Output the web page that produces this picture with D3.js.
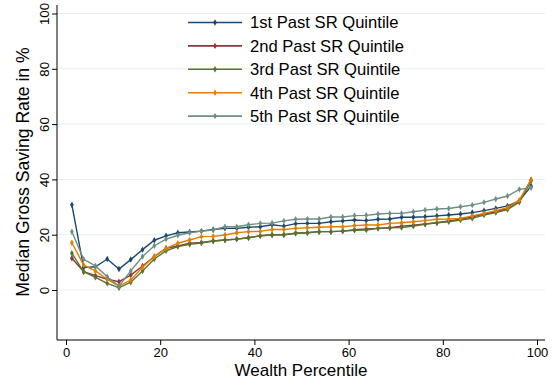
<!DOCTYPE html>
<html><head><meta charset="utf-8">
<script src="https://cdn.jsdelivr.net/npm/d3@7"></script>
<style>body{margin:0;background:#fff}svg{display:block}text{font-family:"Liberation Sans",Arial,Helvetica,sans-serif;fill:#000}</style>
</head><body><svg id="c" width="556" height="385"></svg>
<script>
const percentiles = d3.range(40).map(k => 1.25 + 2.5 * k);
const seriesNames = ["1st Past SR Quintile","2nd Past SR Quintile","3rd Past SR Quintile","4th Past SR Quintile","5th Past SR Quintile"];
const q1 = [30.8,8.1,8.4,11.2,7.6,11.0,14.6,18.0,19.6,20.7,21.0,21.3,21.9,22.3,22.3,22.7,22.9,23.6,23.1,24.0,24.1,24.1,24.7,25.0,25.3,25.1,25.6,25.7,26.3,26.3,26.5,26.8,27.1,27.5,28.0,28.7,29.5,30.4,32.2,37.6];
const q2 = [11.5,6.6,5.2,3.9,3.0,5.4,8.7,12.1,15.1,15.9,16.9,17.2,17.7,18.1,18.4,18.9,19.6,19.9,20.0,20.5,20.7,21.1,21.1,21.3,21.8,22.1,22.3,22.5,23.1,23.4,23.9,24.3,25.0,25.6,26.5,27.5,28.3,29.5,32.2,39.8];
const q3 = [13.3,6.6,4.6,2.4,0.8,2.8,6.9,11.2,14.2,15.7,16.5,17.0,17.7,18.1,18.4,18.9,19.6,20.0,20.0,20.5,20.7,21.1,21.1,21.3,21.6,21.7,22.3,22.5,22.6,23.1,23.8,24.3,24.7,25.3,25.9,27.1,28.0,29.1,31.7,39.5];
const q4 = [17.1,9.0,6.9,3.9,1.4,3.6,8.2,12.1,15.1,16.9,18.1,19.3,19.4,19.9,20.7,21.1,21.2,21.9,21.9,22.3,22.5,22.7,22.9,22.9,23.3,23.5,23.5,24.1,24.3,24.7,25.1,25.6,25.7,25.9,26.8,27.7,28.7,29.8,32.5,40.0];
const q5 = [21.1,11.1,8.7,4.8,1.4,6.9,12.1,16.0,18.4,19.8,20.7,21.3,21.7,22.9,22.9,23.6,24.1,24.2,25.0,25.6,25.7,25.7,26.4,26.4,26.9,27.0,27.5,27.7,27.7,28.3,28.9,29.3,29.5,30.1,30.7,31.7,32.9,34.0,36.4,37.0];
const seriesValues = [q1,q2,q3,q4,q5];
const colors = ["#1a476f","#90353b","#55752f","#e37e00","#6e8e84"];
const xTicks = [0,20,40,60,80,100];
const yTicks = [0,20,40,60,80,100];

const svg = d3.select("#c");
const plot = {left:57, right:545, top:5, bottom:340};
const x = d3.scaleLinear().domain([0,100]).range([66,537]);
const y = d3.scaleLinear().domain([0,100]).range([290,13.5]);

// gridlines
svg.append("g").selectAll("line").data(yTicks).join("line")
  .attr("x1",plot.left).attr("x2",plot.right)
  .attr("y1",d=>y(d)).attr("y2",d=>y(d))
  .attr("stroke","#e6eef0").attr("stroke-width",1);

// axes
const ya = svg.append("g").attr("transform",`translate(${plot.left},0)`)
  .call(d3.axisLeft(y).tickValues(yTicks).tickSize(5).tickPadding(0).tickFormat(d3.format("d")));
ya.select(".domain").attr("d",`M0,${plot.top}V${plot.bottom}`).attr("stroke","#000");
ya.selectAll(".tick line").attr("stroke","#000");
ya.selectAll(".tick text").attr("font-size",13.2).attr("text-anchor","middle")
  .attr("transform","translate(-13,0) rotate(-90)").attr("x",0).attr("dy","0.35em").style("font-family","Liberation Sans, Arial, sans-serif").attr("fill","#000");

const xa = svg.append("g").attr("transform",`translate(0,${plot.bottom})`)
  .call(d3.axisBottom(x).tickValues(xTicks).tickSize(5).tickPadding(3).tickFormat(d3.format("d")));
xa.select(".domain").attr("d",`M${plot.left},0H${plot.right}`).attr("stroke","#000");
xa.selectAll(".tick line").attr("stroke","#000");
xa.selectAll(".tick text").attr("font-size",13).style("font-family","Liberation Sans, Arial, sans-serif").attr("fill","#000");

// titles
svg.append("text").attr("x",301).attr("y",376).attr("text-anchor","middle").attr("font-size",17).text("Wealth Percentile");
svg.append("text").attr("transform","translate(29,172) rotate(-90)").attr("text-anchor","middle").attr("font-size",17.6).text("Median Gross Saving Rate in %");

// series
const line = d3.line().x((d,i)=>x(percentiles[i])).y(d=>y(d));
const sym = d3.symbol().type(d3.symbolDiamond).size(12);
seriesValues.forEach((vals,si)=>{
  const g = svg.append("g");
  g.append("path").datum(vals).attr("d",line).attr("fill","none").attr("stroke",colors[si]).attr("stroke-width",1.4);
  g.selectAll("path.m").data(vals).join("path").attr("class","m")
    .attr("transform",(d,i)=>`translate(${x(percentiles[i])},${y(d)})`)
    .attr("d",sym).attr("fill",colors[si]);
});

// legend
const lg = svg.append("g");
seriesNames.forEach((n,i)=>{
  const yy = 22.5 + i*23.4;
  lg.append("line").attr("x1",188).attr("x2",242).attr("y1",yy).attr("y2",yy).attr("stroke",colors[i]).attr("stroke-width",1.6);
  lg.append("path").attr("transform",`translate(215,${yy})`).attr("d",sym).attr("fill",colors[i]);
  lg.append("text").attr("x",250).attr("y",yy).attr("dy","0.36em").attr("font-size",16.6).text(n);
});
</script></body></html>
